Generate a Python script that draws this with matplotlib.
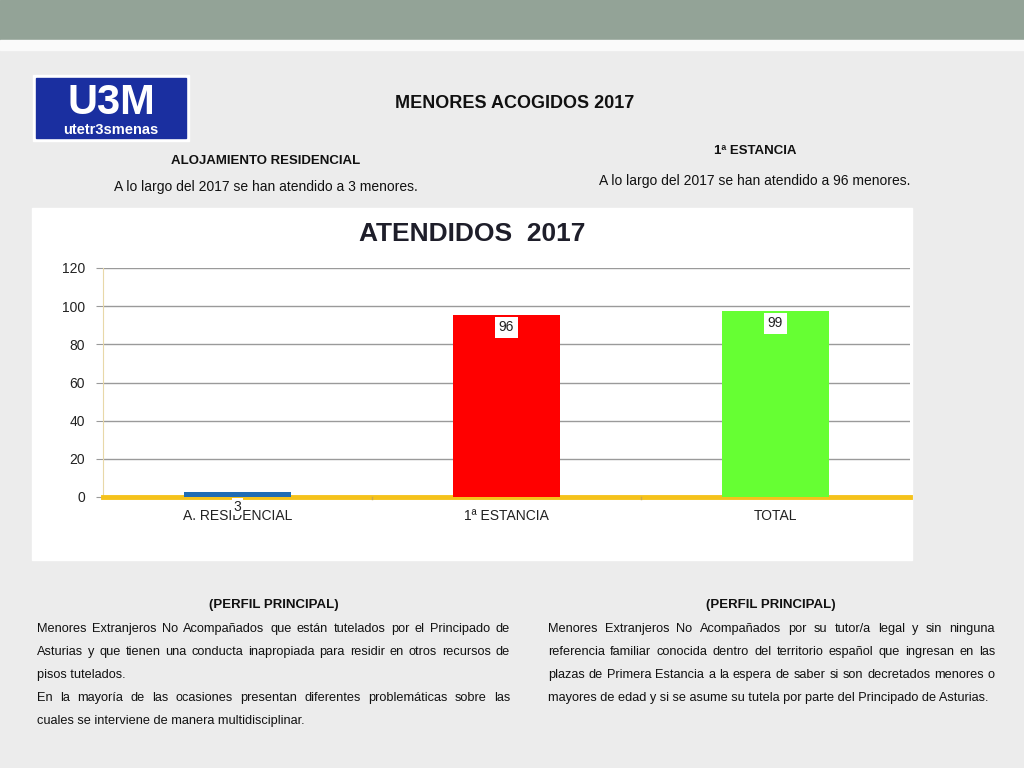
import matplotlib
matplotlib.use("Agg")
import matplotlib.pyplot as plt
from matplotlib.patches import Rectangle

plt.rcParams['font.family'] = ['Liberation Sans', 'DejaVu Sans']

categories = ["A. RESIDENCIAL", "1ª ESTANCIA", "TOTAL"]
bar_heights = [2.5, 95.5, 97.5]
bar_labels = ["3", "96", "99"]
bar_colors = ["#1F6CB5", "#FF0000", "#66FF33"]
yticks = [0, 20, 40, 60, 80, 100, 120]

left_lines = [
    "Menores Extranjeros No Acompañados que están tutelados por el Principado de",
    "Asturias y que tienen una conducta inapropiada para residir en otros recursos de",
    "pisos tutelados.",
    "En la mayoría de las ocasiones presentan diferentes problemáticas sobre las",
    "cuales se interviene de manera multidisciplinar.",
]
left_just = [True, True, False, True, False]
right_lines = [
    "Menores Extranjeros No Acompañados por su tutor/a legal y sin ninguna",
    "referencia familiar conocida dentro del territorio español que ingresan en las",
    "plazas de Primera Estancia a la espera de saber si son decretados menores o",
    "mayores de edad y si se asume su tutela por parte del Principado de Asturias.",
]
right_just = [True, True, True, False]

W, H = 1024, 768
fig = plt.figure(figsize=(W / 100, H / 100), dpi=100)
fig.patch.set_facecolor("#ECECEC")

bg = fig.add_axes([0, 0, 1, 1])
bg.set_xlim(0, W)
bg.set_ylim(H, 0)
bg.axis("off")
bg.add_patch(Rectangle((0, 0), W, 40, color="#93A397", zorder=0))
bg.add_patch(Rectangle((0, 40), W, 10, color="#FAFAFA", zorder=0))
bg.add_patch(Rectangle((32, 208), 880, 352, color="white", zorder=0))
# logo
bg.add_patch(Rectangle((33, 75), 156, 66, color="#FFFFFF", zorder=1))
bg.add_patch(Rectangle((36, 78), 150, 60, color="#1A2FA0", zorder=2))
bg.text(111, 103, "U3M", color="white", fontsize=30, fontweight="bold",
        ha="center", va="center", zorder=3)
bg.text(111, 130, "utetr3smenas", color="white", fontsize=10.5, fontweight="bold",
        ha="center", va="center", zorder=3)

bg.text(515, 103, "MENORES ACOGIDOS 2017", fontsize=13, fontweight="bold",
        ha="center", va="center", color="#111111")
bg.text(266, 161, "ALOJAMIENTO RESIDENCIAL", fontsize=9.5, fontweight="bold",
        ha="center", va="center", color="#111111")
bg.text(266, 187, "A lo largo del 2017 se han atendido a 3 menores.", fontsize=10,
        ha="center", va="center", color="#111111")
bg.text(755, 151, "1ª ESTANCIA", fontsize=9.5, fontweight="bold",
        ha="center", va="center", color="#111111")
bg.text(755, 181, "A lo largo del 2017 se han atendido a 96 menores.", fontsize=10,
        ha="center", va="center", color="#111111")
bg.text(274, 605, "(PERFIL PRINCIPAL)", fontsize=9.5, fontweight="bold",
        ha="center", va="center", color="#111111")
bg.text(771, 605, "(PERFIL PRINCIPAL)", fontsize=9.5, fontweight="bold",
        ha="center", va="center", color="#111111")

# chart
ax = fig.add_axes([103 / W, 1 - 497 / H, (910 - 103) / W, (497 - 268) / H])
ax.set_facecolor("white")
x = list(range(len(categories)))
ax.bar(x, bar_heights, width=0.40, color=bar_colors, zorder=5)
ax.set_xlim(-0.5, 2.5)
ax.set_ylim(0, 120)
ax.set_yticks(yticks)
ax.set_yticklabels([str(v) for v in yticks], fontsize=10, color="#222222")
ax.yaxis.grid(True, color="#9A9A9A", linewidth=1, zorder=0)
ax.set_xticks(x)
ax.set_xticklabels(categories, fontsize=10, color="#222222")
ax.tick_params(axis="x", length=0, pad=9)
ax.tick_params(axis="y", length=5, color="#9A9A9A", pad=8)
for s in ["top", "right"]:
    ax.spines[s].set_visible(False)
ax.spines["left"].set_color("#E8D8A8")
ax.spines["bottom"].set_color("#F5C21B")
ax.spines["bottom"].set_linewidth(3.5)
ax.spines["bottom"].set_zorder(4)
for b in [0.5, 1.5]:
    ax.plot([b, b], [0, -1.2], color="#C8A850", lw=1, clip_on=False, zorder=5)
for i, (h, lab) in enumerate(zip(bar_heights, bar_labels)):
    if h < 10:
        ax.text(i, -5, lab, ha="center", va="center", fontsize=10, color="#222222",
                bbox=dict(facecolor="white", edgecolor="none", pad=1.0), zorder=6,
                clip_on=False)
    else:
        ax.text(i, h - 6.5, lab, ha="center", va="center", fontsize=10, color="#222222",
                bbox=dict(facecolor="white", edgecolor="none", pad=2.5), zorder=6)

fig.text(472 / W, 1 - 234 / H, "ATENDIDOS  2017", fontsize=19, fontweight="bold",
         ha="center", va="center", color="#1E1E2A")

# justified paragraphs
renderer = fig.canvas.get_renderer()
fs = 9.2


def draw_lines(lines, just, x0, x1, ys):
    for line, j, y in zip(lines, just, ys):
        if not j:
            bg.text(x0, y, line, fontsize=fs, ha="left", va="center", color="#111111")
            continue
        words = line.split(" ")
        widths = []
        for w in words:
            t = bg.text(0, 0, w, fontsize=fs)
            bb = t.get_window_extent(renderer=renderer)
            widths.append(bb.width)
            t.remove()
        gap = (x1 - x0 - sum(widths)) / (len(words) - 1)
        pos = x0
        for w, wd in zip(words, widths):
            bg.text(pos, y, w, fontsize=fs, ha="left", va="center", color="#111111")
            pos += wd + gap


draw_lines(left_lines, left_just, 37, 510, [629, 652, 675, 698, 721])
draw_lines(right_lines, right_just, 548, 995, [629, 652, 675, 698])

fig.savefig("out.png", dpi=100, facecolor=fig.get_facecolor())
